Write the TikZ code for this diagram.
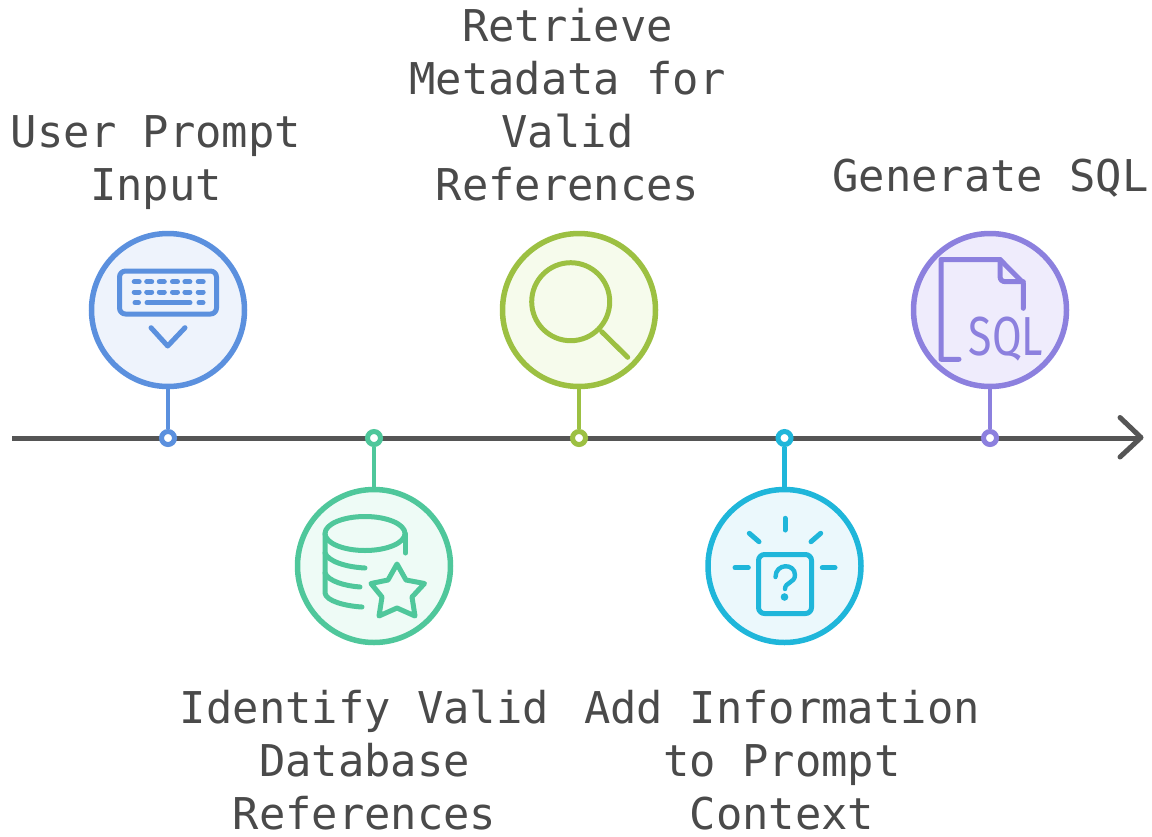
\documentclass[tikz,border=0pt]{standalone}
\usepackage{fontspec}
\setmainfont{DejaVu Sans Mono}
\newfontfamily\iconfont{Fira Sans}
\definecolor{cblue}{HTML}{5B90DE}\definecolor{fblue}{HTML}{EEF3FC}
\definecolor{cgreen}{HTML}{4FC79B}\definecolor{fgreen}{HTML}{EEFBF6}
\definecolor{clime}{HTML}{9CC042}\definecolor{flime}{HTML}{F6FBEC}
\definecolor{ccyan}{HTML}{1FB6DA}\definecolor{fcyan}{HTML}{EBF8FC}
\definecolor{cpurp}{HTML}{8C80DE}\definecolor{fpurp}{HTML}{EFECFC}
\definecolor{ctext}{HTML}{4A4A4A}\definecolor{caxis}{HTML}{555555}
\tikzset{
  stepcircle/.style={circle,draw=#1,line width=5.5pt,minimum size=153pt,inner sep=0pt},
  stepdot/.style={circle,draw=#1,fill=white,line width=5pt,minimum size=13pt,inner sep=0pt},
  stem/.style={draw=#1,line width=4.6pt},
  icon/.style={draw=#1,line width=5pt,line cap=round,line join=round},
  steplabel/.style={text=ctext,font=\fontsize{43.8}{53}\selectfont,align=center,inner sep=0pt,anchor=base}
}
\begin{document}
\begin{tikzpicture}[x=1pt,y=-1pt]
\useasboundingbox (0,0) rectangle (1152,836);
% axis
\coordinate (axisstart) at (12,438);
\coordinate (axisend) at (1140,438);
\coordinate (tipa) at (1120,417.5);
\coordinate (tipb) at (1120,457);
\draw[caxis,line width=5pt] (axisstart) -- (axisend);
\draw[caxis,line width=5pt,line cap=round,line join=round] (tipa) -- (1141,437.5) -- (tipb);
% circles
\node[stepcircle=cblue,fill=fblue] (c1) at (168,310) {};
\node[stepcircle=cgreen,fill=fgreen] (c2) at (374,566) {};
\node[stepcircle=clime,fill=flime] (c3) at (579,310) {};
\node[stepcircle=ccyan,fill=fcyan] (c4) at (784.5,566) {};
\node[stepcircle=cpurp,fill=fpurp] (c5) at (990,310) {};
% dots
\node[stepdot=cblue] (d1) at (168,438) {};
\node[stepdot=cgreen] (d2) at (374,438) {};
\node[stepdot=clime] (d3) at (579,438) {};
\node[stepdot=ccyan] (d4) at (784.5,438) {};
\node[stepdot=cpurp] (d5) at (990,438) {};
% stems
\draw[stem=cblue] (c1) -- (d1);
\draw[stem=cgreen] (c2) -- (d2);
\draw[stem=clime] (c3) -- (d3);
\draw[stem=ccyan] (c4) -- (d4);
\draw[stem=cpurp] (c5) -- (d5);
% keyboard
\draw[icon=cblue,rounded corners=6pt] (119.5,271) rectangle (216.5,314);
\foreach \x in {136.7,149.2,161.8,175,187.4,200.7}{
  \draw[cblue,line width=5pt,line cap=round] (\x-2.5,281.8) -- (\x+2.5,281.8);
  \draw[cblue,line width=5pt,line cap=round] (\x-2.5,292) -- (\x+2.5,292);}
\draw[cblue,line width=5pt,line cap=round] (135,302.8) -- (138.5,302.8);
\draw[cblue,line width=5pt,line cap=round] (147,302.8) -- (190,302.8);
\draw[cblue,line width=5pt,line cap=round] (199,302.8) -- (203,302.8);
\draw[icon=cblue] (151,327.7) -- (167.7,346) -- (185,327.7);
% database + star
\draw[icon=cgreen] (365,533.5) ellipse (40pt and 17pt);
\draw[icon=cgreen] (405.5,534) -- (405.5,553);
\draw[icon=cgreen] (325,534) -- (325,593) .. controls (326,601) and (345,606) .. (362,607);
\draw[icon=cgreen] (325,553) .. controls (328,561) and (345,567) .. (365,568);
\draw[icon=cgreen] (325,573) .. controls (328,581) and (345,586) .. (360,587);
\draw[icon=cgreen] (397,564) -- (406,580) -- (424.5,583.5) -- (412,597) -- (415,616) -- (397,608) -- (379,616) -- (382,597) -- (371,583.5) -- (388,580) -- cycle;
% magnifier
\draw[icon=clime] (570.7,301.7) circle (39pt);
\draw[icon=clime] (601.7,331.7) -- (627.7,357.3);
% question box
\draw[icon=ccyan,rounded corners=6pt] (758.5,554.5) rectangle (811.5,613.5);
\draw[icon=ccyan] (785,518.3) -- (785,530);
\draw[icon=ccyan] (749.3,533.3) -- (759,541.7);
\draw[icon=ccyan] (820.7,533.3) -- (811,541.7);
\draw[icon=ccyan] (735,567.7) -- (748.3,567.7);
\draw[icon=ccyan] (822.3,567.7) -- (835,567.7);
\draw[icon=ccyan,line width=4.4pt] (775.5,577) .. controls (775.5,563) and (795,563) .. (795,575) .. controls (795,583) and (785,582) .. (785,589);
\fill[ccyan] (784.5,597) circle (3.8pt);
% SQL doc
\draw[icon=cpurp] (959,359.3) -- (941,359.3) -- (941,259.5) -- (1000,259.5) -- (1023.3,283) -- (1023.3,308.3);
\draw[icon=cpurp] (1000,259.5) -- (1000,276) .. controls (1000,280) and (1002,281.7) .. (1006,281.7) -- (1023.3,281.7);
\node[text=cpurp,inner sep=0pt,anchor=base] (sqltext) at (1006,355.5) {\iconfont\fontsize{55}{55}\selectfont\scalebox{0.78}[1]{SQL}};
% labels
\node[steplabel] (l1) at (156,200) {User Prompt\\Input};
\node[steplabel] (l2) at (364.5,829.5) {Identify Valid\\Database\\References};
\node[steplabel] (l3) at (567.5,200) {Retrieve\\Metadata for\\Valid\\References};
\node[steplabel] (l4) at (782,829.5) {Add Information\\to Prompt\\Context};
\node[steplabel] (l5) at (990.5,191) {Generate SQL};
\end{tikzpicture}
\end{document}
